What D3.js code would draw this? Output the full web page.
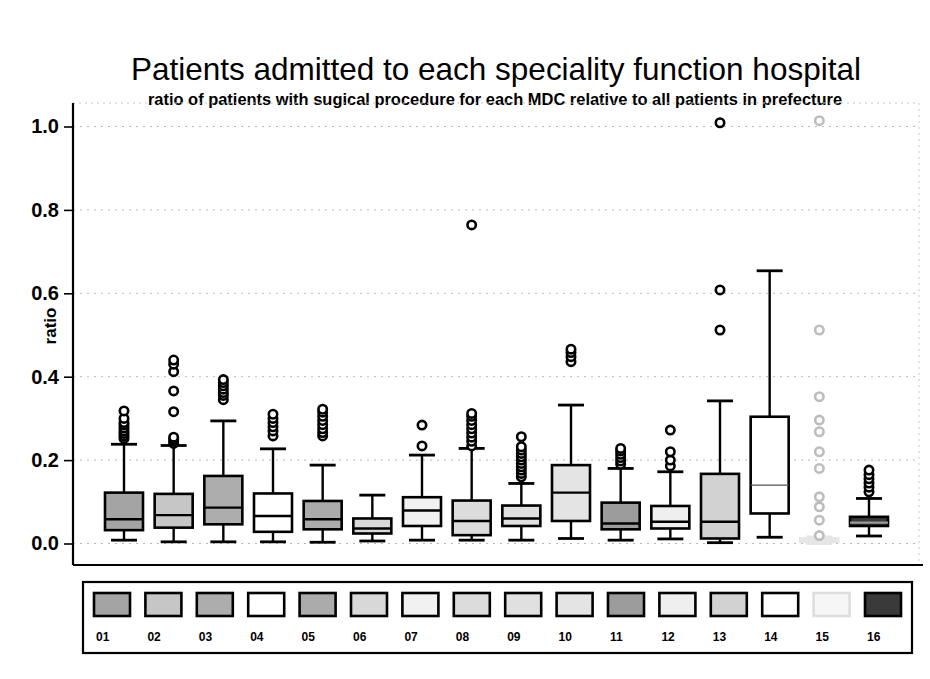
<!DOCTYPE html>
<html>
<head>
<meta charset="utf-8">
<script src="https://cdn.jsdelivr.net/npm/d3@7"></script>
<style>
  html, body { margin: 0; padding: 0; background: #ffffff; }
  svg { display: block; font-family: "Liberation Sans", Arial, Helvetica, sans-serif; }
</style>
</head>
<body>
<svg id="chart" width="930" height="679"></svg>
<script>
// ---------------- data ----------------
const titleText = "Patients admitted to each speciality function hospital";
const subtitleText = "ratio of patients with sugical procedure for each MDC relative to all patients in prefecture";
const yTitle = "ratio";
const categories = ["01","02","03","04","05","06","07","08","09","10","11","12","13","14","15","16"];
const yTicks = [0.0, 0.2, 0.4, 0.6, 0.8, 1.0];

const whiskerLow  = [0.008, 0.004, 0.004, 0.004, 0.003, 0.006, 0.008, 0.008, 0.008, 0.012, 0.008, 0.011, 0.002, 0.015, 0.000, 0.018];
const q1          = [0.032, 0.038, 0.046, 0.028, 0.034, 0.024, 0.042, 0.020, 0.042, 0.054, 0.034, 0.036, 0.012, 0.072, 0.004, 0.042];
const medians     = [0.058, 0.068, 0.086, 0.066, 0.058, 0.036, 0.079, 0.054, 0.060, 0.122, 0.048, 0.052, 0.052, 0.140, 0.008, 0.050];
const q3          = [0.122, 0.119, 0.162, 0.120, 0.102, 0.060, 0.111, 0.103, 0.091, 0.188, 0.098, 0.090, 0.167, 0.304, 0.012, 0.064];
const whiskerHigh = [0.238, 0.235, 0.294, 0.227, 0.188, 0.116, 0.212, 0.228, 0.144, 0.332, 0.180, 0.172, 0.342, 0.654, 0.016, 0.108];
const outliers = [
  [0.252, 0.258, 0.264, 0.270, 0.277, 0.284, 0.290, 0.300, 0.318],
  [0.240, 0.245, 0.250, 0.255, 0.316, 0.366, 0.412, 0.430, 0.440],
  [0.345, 0.355, 0.362, 0.370, 0.378, 0.386, 0.393],
  [0.258, 0.270, 0.280, 0.290, 0.300, 0.310],
  [0.258, 0.266, 0.275, 0.285, 0.295, 0.305, 0.315, 0.322],
  [],
  [0.234, 0.284],
  [0.234, 0.245, 0.255, 0.265, 0.275, 0.285, 0.295, 0.305, 0.312, 0.764],
  [0.160, 0.168, 0.176, 0.184, 0.192, 0.200, 0.208, 0.216, 0.224, 0.232, 0.256],
  [0.436, 0.448, 0.458, 0.466],
  [0.190, 0.198, 0.206, 0.214, 0.222, 0.228],
  [0.186, 0.200, 0.220, 0.272],
  [0.512, 0.608, 1.009],
  [],
  [0.019, 0.056, 0.088, 0.112, 0.180, 0.220, 0.268, 0.296, 0.352, 0.512, 1.014],
  [0.124, 0.135, 0.145, 0.155, 0.165, 0.176]
];

// ---------------- styles ----------------
const fills   = ["#a4a4a4","#c6c6c6","#adadad","#ffffff","#ababab","#d8d8d8","#f1f1f1","#dcdcdc",
                 "#e0e0e0","#e4e4e4","#9c9c9c","#efefef","#d2d2d2","#ffffff","#f6f6f6","#3a3a3a"];
const strokes = ["#000","#000","#000","#000","#000","#000","#000","#000",
                 "#000","#000","#000","#000","#000","#000","#e6e6e6","#000"];
const markerColors = categories.map((c, i) => i === 14 ? "#bdbdbd" : "#000");

// ---------------- layout ----------------
const svg = d3.select("#chart");
const plot = { left: 73, right: 919, top: 103, bottom: 565 };
const y = d3.scaleLinear().domain([0, 1]).range([543.5, 126.5]);
const x = d3.scalePoint().domain(categories).range([124, 869]);
const boxW = 38, capW = 26;

// titles (fit to measured width of reference)
function fitText(sel, targetW) {
  const fs = parseFloat(sel.attr("font-size"));
  const w = sel.node().getComputedTextLength();
  sel.attr("font-size", (fs * targetW / w).toFixed(2));
}
const t1 = svg.append("text").attr("x", 496).attr("y", 80).attr("text-anchor", "middle")
  .attr("font-size", 28).attr("fill", "#000").text(titleText);
fitText(t1, 730);
const t2 = svg.append("text").attr("x", 495).attr("y", 105).attr("text-anchor", "middle")
  .attr("font-size", 13).attr("font-weight", "bold").attr("fill", "#000").text(subtitleText);
fitText(t2, 695);

// gridlines
svg.append("g").selectAll("line").data(yTicks).join("line")
  .attr("x1", plot.left).attr("x2", plot.right)
  .attr("y1", d => y(d)).attr("y2", d => y(d))
  .attr("stroke", "#b8b8b8").attr("stroke-width", 1).attr("stroke-dasharray", "2,5");

// plot region frame: faint top/right, solid bottom
svg.append("line").attr("x1", plot.left).attr("x2", plot.right).attr("y1", plot.top).attr("y2", plot.top)
  .attr("stroke", "#c8c8c8").attr("stroke-dasharray", "2,4");
svg.append("line").attr("x1", plot.right).attr("x2", plot.right).attr("y1", plot.top).attr("y2", plot.bottom)
  .attr("stroke", "#c8c8c8").attr("stroke-dasharray", "2,4");
svg.append("line").attr("x1", plot.left).attr("x2", plot.right + 4).attr("y1", plot.bottom).attr("y2", plot.bottom)
  .attr("stroke", "#000").attr("stroke-width", 2);

// y axis
const yAxis = d3.axisLeft(y).tickValues(yTicks).tickFormat(d3.format(".1f")).tickSize(9).tickPadding(5);
const gy = svg.append("g").attr("transform", `translate(${plot.left},0)`).call(yAxis);
gy.select(".domain").remove();
gy.selectAll(".tick line").attr("stroke", "#000").attr("stroke-width", 1.6);
gy.selectAll(".tick text").attr("font-size", 20).attr("font-weight", "bold")
  .attr("fill", "#000").attr("font-family", "'Liberation Sans', Arial, sans-serif");
svg.append("line").attr("x1", plot.left).attr("x2", plot.left).attr("y1", plot.top).attr("y2", plot.bottom)
  .attr("stroke", "#000").attr("stroke-width", 2.2);

svg.append("text").attr("transform", `translate(56,326) rotate(-90)`).attr("text-anchor", "middle")
  .attr("font-size", 17).attr("font-weight", "bold").attr("fill", "#000").text(yTitle);

// boxes
const boxes = svg.append("g").selectAll("g").data(categories).join("g");
boxes.each(function(c, i) {
  const g = d3.select(this);
  const cx = x(c);
  const sw = 2.6;
  g.append("line").attr("x1", cx).attr("x2", cx).attr("y1", y(q3[i])).attr("y2", y(whiskerHigh[i]))
    .attr("stroke", strokes[i]).attr("stroke-width", 2.4);
  g.append("line").attr("x1", cx).attr("x2", cx).attr("y1", y(q1[i])).attr("y2", y(whiskerLow[i]))
    .attr("stroke", strokes[i]).attr("stroke-width", 2.4);
  [whiskerHigh[i], whiskerLow[i]].forEach(v => {
    g.append("line").attr("x1", cx - capW / 2).attr("x2", cx + capW / 2).attr("y1", y(v)).attr("y2", y(v))
      .attr("stroke", strokes[i]).attr("stroke-width", 2.8);
  });
  g.append("rect").attr("x", cx - boxW / 2).attr("width", boxW)
    .attr("y", y(q3[i])).attr("height", y(q1[i]) - y(q3[i]))
    .attr("fill", fills[i]).attr("stroke", strokes[i]).attr("stroke-width", sw);
  g.append("line").attr("x1", cx - boxW / 2).attr("x2", cx + boxW / 2)
    .attr("y1", y(medians[i])).attr("y2", y(medians[i]))
    .attr("stroke", i === 15 ? "#9a9a9a" : (i === 13 ? "#555" : strokes[i]))
    .attr("stroke-width", i === 13 ? 1.4 : 2.4);
  g.selectAll("circle").data(outliers[i]).join("circle")
    .attr("cx", cx).attr("cy", d => y(d)).attr("r", 4.2)
    .attr("fill", "#fff").attr("stroke", markerColors[i]).attr("stroke-width", 2.6);
});

// legend
const lg = { left: 83, right: 912, top: 582, bottom: 653 };
svg.append("rect").attr("x", lg.left).attr("y", lg.top).attr("width", lg.right - lg.left)
  .attr("height", lg.bottom - lg.top).attr("fill", "none").attr("stroke", "#000").attr("stroke-width", 2.2);
const lx = d3.scalePoint().domain(categories).range([94, 865]);
const keys = svg.append("g").selectAll("g").data(categories).join("g")
  .attr("transform", d => `translate(${lx(d)},0)`);
keys.append("rect").attr("x", 0).attr("y", 593).attr("width", 36).attr("height", 23)
  .attr("fill", (d, i) => fills[i]).attr("stroke", (d, i) => i === 14 ? "#dedede" : "#000")
  .attr("stroke-width", 2.6);
keys.append("text").attr("x", 2).attr("y", 641).attr("font-size", 12).attr("font-weight", "bold")
  .attr("fill", "#000").text(d => d);
</script>
</body>
</html>
